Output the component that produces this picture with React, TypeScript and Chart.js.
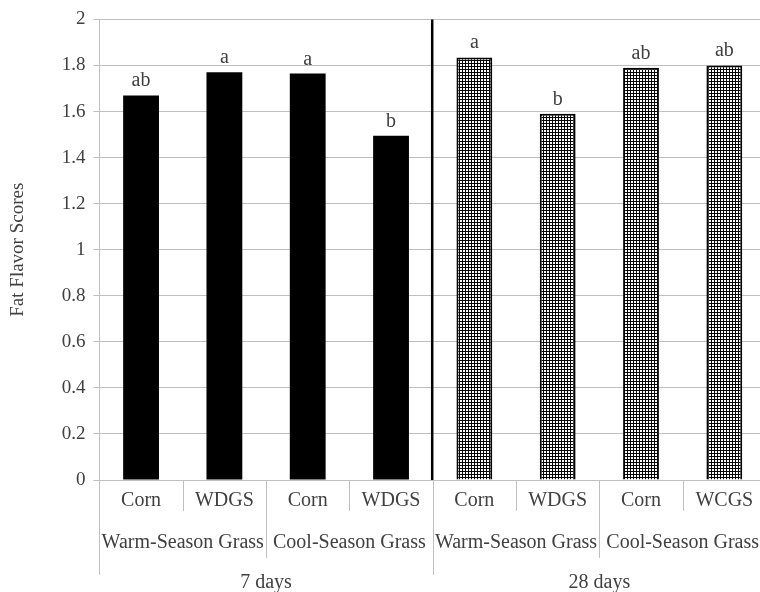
import React, { useEffect, useRef } from "react";
import { Chart, registerables } from "chart.js";

Chart.register(...registerables);

const categories = ["Corn", "WDGS", "Corn", "WDGS", "Corn", "WDGS", "Corn", "WCGS"];
const grassGroups = ["Warm-Season Grass", "Cool-Season Grass", "Warm-Season Grass", "Cool-Season Grass"];
const dayGroups = ["7 days", "28 days"];
const scores = [1.67, 1.77, 1.765, 1.495, 1.835, 1.59, 1.79, 1.8];
const letters = ["ab", "a", "a", "b", "a", "b", "ab", "ab"];
const hatched = [false, false, false, false, true, true, true, true];

const FONT = "'Liberation Serif', 'DejaVu Serif', serif";
const TEXT = "#404040";
const GRID = "#bfbfbf";

Chart.defaults.font.family = FONT;
Chart.defaults.color = TEXT;

export default function App() {
  const ref = useRef<HTMLCanvasElement | null>(null);

  useEffect(() => {
    const canvas = ref.current;
    if (!canvas) return;
    const ctx = canvas.getContext("2d")!;

    const pc = document.createElement("canvas");
    pc.width = 3;
    pc.height = 3;
    const p = pc.getContext("2d")!;
    p.fillStyle = "#ffffff";
    p.fillRect(0, 0, 3, 3);
    p.fillStyle = "#000000";
    p.fillRect(0, 0, 3, 1);
    p.fillRect(0, 0, 1, 3);
    const pattern = ctx.createPattern(pc, "repeat")!;

    const overlay = {
      id: "overlay",
      afterDraw(chart: any) {
        const c = chart.ctx;
        const xs = chart.scales.x;
        const area = chart.chartArea;
        const step = xs.getPixelForValue(1) - xs.getPixelForValue(0);
        const boundary = (i: number) => xs.getPixelForValue(i) - step / 2;
        const base = area.bottom;

        c.save();
        c.strokeStyle = GRID;
        c.lineWidth = 1;
        for (let i = 0; i <= categories.length; i++) {
          let len = 31;
          if (i % 4 === 0) len = 95;
          else if (i % 2 === 0) len = 78;
          const x = Math.round(boundary(i)) + 0.5;
          c.beginPath();
          c.moveTo(x, base);
          c.lineTo(x, base + len);
          c.stroke();
        }

        c.strokeStyle = "#000000";
        c.lineWidth = 2.5;
        const dx = boundary(4) - 0.5;
        c.beginPath();
        c.moveTo(dx, area.top);
        c.lineTo(dx, area.bottom);
        c.stroke();

        c.fillStyle = TEXT;
        c.textAlign = "center";
        c.textBaseline = "alphabetic";
        c.font = `20px ${FONT}`;
        categories.forEach((lab, i) => {
          c.fillText(lab, xs.getPixelForValue(i), base + 26);
        });
        grassGroups.forEach((lab, g) => {
          const cx = (boundary(g * 2) + boundary(g * 2 + 2)) / 2;
          c.fillText(lab, cx, base + 68);
        });
        dayGroups.forEach((lab, g) => {
          const cx = (boundary(g * 4) + boundary(g * 4 + 4)) / 2;
          c.fillText(lab, cx, base + 108);
        });

        const meta = chart.getDatasetMeta(0);
        meta.data.forEach((bar: any, i: number) => {
          c.fillText(letters[i], bar.x, bar.y - 9);
        });
        c.restore();
      },
    };

    const chart = new Chart(ctx, {
      type: "bar",
      data: {
        labels: categories,
        datasets: [
          {
            data: scores,
            backgroundColor: hatched.map((h) => (h ? pattern : "#000000")),
            borderColor: "#000000",
            borderWidth: hatched.map((h) => (h ? 2 : 0)),
            barPercentage: 0.43,
            categoryPercentage: 1,
          },
        ],
      },
      options: {
        responsive: false,
        animation: false,
        devicePixelRatio: 1,
        layout: { padding: { top: 18, left: 0, right: 0, bottom: 0 } },
        plugins: {
          legend: { display: false },
          tooltip: { enabled: false },
        },
        scales: {
          x: {
            type: "category",
            offset: true,
            grid: { display: false },
            border: { display: false },
            ticks: { display: false },
            afterFit: (s: any) => {
              s.height = 112;
            },
          },
          y: {
            min: 0,
            max: 2,
            ticks: {
              stepSize: 0.2,
              color: TEXT,
              padding: 8,
              font: { family: FONT, size: 19 },
              callback: (v: any) => String(Number(Number(v).toFixed(1))),
            },
            grid: { color: GRID, lineWidth: 1, tickLength: 6 },
            border: { color: GRID, width: 1 },
            title: {
              display: true,
              text: "Fat Flavor Scores",
              color: TEXT,
              font: { family: FONT, size: 19 },
              padding: { top: 7, bottom: 0 },
            },
            afterFit: (s: any) => {
              s.width = 99.4;
            },
          },
        },
      },
      plugins: [overlay],
    });

    return () => chart.destroy();
  }, []);

  return (
    <div
      style={{
        position: "absolute",
        left: 0,
        top: 0,
        width: 760,
        height: 592,
        overflow: "hidden",
        background: "#ffffff",
      }}
    >
      <canvas ref={ref} width={766} height={592} style={{ display: "block" }} />
    </div>
  );
}
